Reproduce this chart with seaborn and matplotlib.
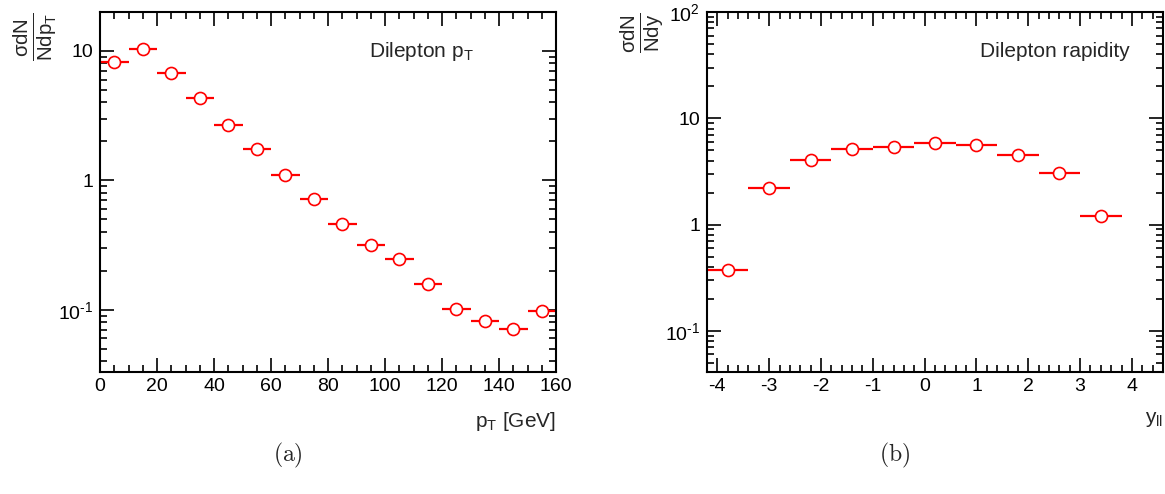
import numpy as np
import matplotlib
matplotlib.use("Agg")
import matplotlib.pyplot as plt
import matplotlib.ticker as mticker
import seaborn as sns

# Dilepton pT spectrum (bin centres, half widths, values)
pt_centres = [5, 15, 25, 35, 45, 55, 65, 75, 85, 95, 105, 115, 125, 135, 145, 155]
pt_halfwidth = 5
pt_values = [8.15, 10.4, 6.71, 4.36, 2.69, 1.76, 1.09, 0.718, 0.458, 0.317,
             0.246, 0.157, 0.101, 0.082, 0.0707, 0.098]

# Dilepton rapidity spectrum
y_centres = [-3.8, -3.0, -2.2, -1.4, -0.6, 0.2, 1.0, 1.8, 2.6, 3.4]
y_halfwidth = 0.4
y_values = [0.370, 2.22, 4.01, 5.09, 5.39, 5.88, 5.55, 4.54, 3.03, 1.21]

sns.set_theme(style="ticks")
plt.rcParams['font.family'] = ['Liberation Sans', 'DejaVu Sans']
plt.rcParams['mathtext.fontset'] = 'custom'
plt.rcParams['mathtext.rm'] = 'Liberation Sans'
plt.rcParams['mathtext.it'] = 'Liberation Sans:italic'
plt.rcParams['mathtext.sf'] = 'Liberation Sans'
plt.rcParams['axes.unicode_minus'] = False

RED = '#ff0000'
W, H = 1165, 494
fig = plt.figure(figsize=(W / 100, H / 100), dpi=100)
ax1 = fig.add_axes([100 / W, 122 / H, 456 / W, 360 / H])
ax2 = fig.add_axes([707 / W, 122 / H, 456 / W, 360 / H])


def log_label(v, pos):
    exp = int(round(np.log10(v)))
    if exp == 0:
        return '1'
    if exp == 1:
        return '10'
    if exp < 0:
        return r'$\mathrm{10^{\text{-}%d}}$' % (-exp)
    return r'$\mathrm{10^{%d}}$' % exp


def draw(ax, xs, hw, ys):
    ax.errorbar(xs, ys, xerr=hw, fmt='none', ecolor=RED, elinewidth=1.6,
                capsize=0, zorder=2)
    sns.scatterplot(x=xs, y=ys, ax=ax, marker='o', s=75, color='white',
                    edgecolor=RED, linewidth=1.2, zorder=3, legend=False)
    ax.set_yscale('log')
    ax.yaxis.set_major_locator(mticker.LogLocator(base=10, numticks=10))
    ax.yaxis.set_minor_locator(mticker.LogLocator(base=10, subs=np.arange(2, 10), numticks=10))
    ax.yaxis.set_major_formatter(mticker.FuncFormatter(log_label))
    ax.yaxis.set_minor_formatter(mticker.NullFormatter())
    ax.tick_params(which='both', direction='in', top=True, right=True,
                   colors='black', labelsize=14, width=1.2)
    ax.tick_params(axis='y', which='major', length=10, pad=5)
    ax.tick_params(axis='y', which='minor', length=5)
    ax.tick_params(axis='x', which='major', length=10, pad=4)
    ax.tick_params(axis='x', which='minor', length=5)
    for sp in ax.spines.values():
        sp.set_linewidth(1.5)
        sp.set_color('black')
    ax.grid(False)


draw(ax1, pt_centres, pt_halfwidth, pt_values)
ax1.set_xlim(0, 160)
ax1.set_ylim(0.033, 20)
ax1.xaxis.set_major_locator(mticker.MultipleLocator(20))
ax1.xaxis.set_minor_locator(mticker.MultipleLocator(5))
ax1.set_ylabel(r'$\mathrm{\frac{\sigma dN}{Ndp_{T}}}$', fontsize=21, loc='top')
ax1.yaxis.set_label_coords(-0.09, 1.0)
ax1.set_xlabel(r'$\mathrm{p_{T}}$ [GeV]', fontsize=15, loc='right')
ax1.xaxis.set_label_coords(1.0, -0.105)
ax1.text(0.82, 0.875, r'Dilepton $\mathrm{p_{T}}$', transform=ax1.transAxes,
         ha='right', va='baseline', fontsize=15)

draw(ax2, y_centres, y_halfwidth, y_values)
ax2.set_xlim(-4.2, 4.6)
ax2.set_ylim(0.041, 100)
ax2.xaxis.set_major_locator(mticker.MultipleLocator(1))
ax2.xaxis.set_minor_locator(mticker.MultipleLocator(0.2))
ax2.set_ylabel(r'$\mathrm{\frac{\sigma dN}{Ndy}}$', fontsize=21, loc='top')
ax2.yaxis.set_label_coords(-0.09, 1.0)
ax2.set_xlabel(r'$\mathrm{y_{ll}}$', fontsize=15, loc='right')
ax2.xaxis.set_label_coords(1.0, -0.105)
ax2.text(0.928, 0.875, 'Dilepton rapidity', transform=ax2.transAxes,
         ha='right', va='baseline', fontsize=15)

fig.text(288 / W, 1 - 455 / H, r'$\mathrm{(a)}$', ha='center', va='center',
         fontsize=17, math_fontfamily='cm')
fig.text(895 / W, 1 - 455 / H, r'$\mathrm{(b)}$', ha='center', va='center',
         fontsize=17, math_fontfamily='cm')

fig.savefig('out.png', dpi=100)
